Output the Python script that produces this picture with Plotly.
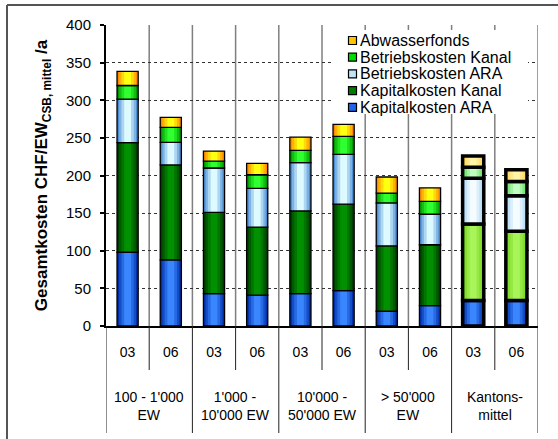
import plotly.graph_objects as go

groups = ["100 - 1'000<br>EW", "1'000 -<br>10'000 EW", "10'000 -<br>50'000 EW", "> 50'000<br>EW", "Kantons-<br>mittel"]
years = ["03", "06", "03", "06", "03", "06", "03", "06", "03", "06"]

kap_ara = [98, 88, 43, 41, 43, 47, 19.6, 27, 34, 34]
kap_kanal = [145.6, 126, 108, 90.5, 110, 115, 87, 81, 101.5, 92]
betr_ara = [58, 30, 59, 51.5, 64, 66, 57, 40.5, 61, 47]
betr_kanal = [18, 20, 9, 18, 16.5, 24, 13, 17, 14.5, 19]
abw = [18.7, 13.3, 13.4, 15, 17.5, 16, 21.4, 18, 15, 15.6]

n = len(years)
xs = list(range(n))
is_kanton = [i >= n - 2 for i in xs]

# (name, values, normal edge, normal centre, kanton edge, kanton centre, legend colour)
series = [
    ("Kapitalkosten ARA", kap_ara, "#0030a8", "#3a86ff", "#0030a8", "#3a86ff", "#1f64ea"),
    ("Kapitalkosten Kanal", kap_kanal, "#003d00", "#009000", "#70d018", "#a8f55a", "#007d00"),
    ("Betriebskosten ARA", betr_ara, "#4a8cd4", "#dcfaff", "#a8d2f2", "#f4fcff", "#bde4f7"),
    ("Betriebskosten Kanal", betr_kanal, "#009a00", "#30ff30", "#5fd85f", "#c0ffc0", "#00dd00"),
    ("Abwasserfonds", abw, "#ff8800", "#ffff10", "#ffd24d", "#fff4a8", "#ffc400"),
]


def mix(c1, c2, t):
    a = [int(c1[i:i + 2], 16) for i in (1, 3, 5)]
    b = [int(c2[i:i + 2], 16) for i in (1, 3, 5)]
    return "#" + "".join("%02x" % round(a[k] + (b[k] - a[k]) * t) for k in range(3))


BW = 0.49
layers = [(1.0, 0.0), (0.80, 0.35), (0.58, 0.68), (0.32, 1.0)]

fig = go.Figure()
base = [0.0] * n
for name, vals, ce, cc, ke, kc, lc in series:
    for frac, t in layers:
        fig.add_trace(go.Bar(
            x=xs, y=vals, base=list(base), width=BW * frac, showlegend=False,
            hoverinfo="skip",
            marker=dict(color=[mix(ke, kc, t) if k else mix(ce, cc, t) for k in is_kanton],
                        line=dict(width=0)),
        ))
    fig.add_trace(go.Bar(
        x=xs, y=vals, base=list(base), width=BW, name=name, showlegend=False,
        marker=dict(color="rgba(0,0,0,0)",
                    line=dict(color="black", width=[3.5 if k else 1.3 for k in is_kanton])),
    ))
    base = [b + v for b, v in zip(base, vals)]

font = "Liberation Sans, Arial, sans-serif"
W, H = 558, 439
# paper spans from the outer frame (7, 5) to the page corner
ML, MT = 7, 5
pw, ph = W - ML, H - MT
PL, PR, PT, PB = 106, 538, 25, 326  # plot area in pixels


def px(p):
    return (p - ML) / pw


def py(p):
    return (H - p) / ph


shapes = []
for i in xs:
    shapes.append(dict(type="line", xref="x", yref="paper", x0=i + 0.5, x1=i + 0.5,
                       y0=py(PB), y1=py(PT), line=dict(color="#7f7f7f", width=1.5), layer="below"))
for g in range(len(groups)):
    xm = 2 * g + 0.5
    shapes.append(dict(type="line", xref="x", yref="paper", x0=xm, x1=xm,
                       y0=py(PB), y1=py(370), line=dict(color="#222", width=1)))
for g in range(len(groups) + 1):
    xb = 2 * g - 0.5
    shapes.append(dict(type="line", xref="x", yref="paper", x0=xb, x1=xb,
                       y0=py(PB), y1=py(433), line=dict(color="#222", width=1)))
# outer frame
shapes.append(dict(type="line", xref="paper", yref="paper", x0=0, x1=1,
                   y0=1, y1=1, line=dict(color="#555", width=2)))
shapes.append(dict(type="line", xref="paper", yref="paper", x0=0, x1=0,
                   y0=0, y1=1, line=dict(color="#555", width=2)))

# legend box
shapes.append(dict(type="rect", xref="paper", yref="paper", x0=px(332), x1=px(528),
                   y0=py(114), y1=py(30), fillcolor="white", line=dict(width=0), layer="above"))

annotations = []
for g, lab in enumerate(groups):
    annotations.append(dict(text=lab, x=2 * g + 0.5, xref="x", y=py(406), yref="paper",
                            showarrow=False, xanchor="center", yanchor="middle",
                            font=dict(family=font, size=14, color="black")))

leg_y0, leg_dy = 40.5, 16.7
for j, (name, vals, ce, cc, ke, kc, lc) in enumerate(reversed(series)):
    yc = leg_y0 + j * leg_dy
    shapes.append(dict(type="rect", xref="paper", yref="paper", x0=px(348.5), x1=px(356.5),
                       y0=py(yc + 4), y1=py(yc - 4), fillcolor=lc,
                       line=dict(color="black", width=1.2), layer="above"))
    annotations.append(dict(text=name, x=px(358), xref="paper", y=py(yc), yref="paper",
                            showarrow=False, xanchor="left", yanchor="middle",
                            font=dict(family=font, size=16, color="black")))

fig.update_layout(
    width=W, height=H,
    margin=dict(l=ML, r=0, t=MT, b=0, autoexpand=False),
    paper_bgcolor="white", plot_bgcolor="white",
    barmode="overlay",
    font=dict(family=font, size=14, color="black"),
    showlegend=False,
    shapes=shapes,
    annotations=annotations,
    xaxis=dict(domain=[px(PL), px(PR)], range=[-0.5, n - 0.5], tickmode="array",
               tickvals=xs, ticktext=years, automargin=False,
               showgrid=False, zeroline=False, showline=True, linecolor="black", linewidth=2,
               ticks="", ticklabelstandoff=12, tickfont=dict(size=14)),
    yaxis=dict(domain=[py(PB), py(PT)], range=[0, 400], dtick=50, automargin=False,
               showgrid=True, gridcolor="#333", griddash="dot",
               gridwidth=1, zeroline=False, showline=True, linecolor="black", linewidth=2,
               ticks="outside", ticklen=4, tickcolor="black", tickwidth=1.5,
               ticklabelstandoff=6, tickfont=dict(size=15),
               title=dict(text="<b>Gesamtkosten CHF/EW<sub>CSB, mittel</sub> /a</b>",
                          font=dict(size=17), standoff=14)),
)

fig.write_html("out.html", config={"displayModeBar": False},
               post_script="document.body.style.margin='0';")
